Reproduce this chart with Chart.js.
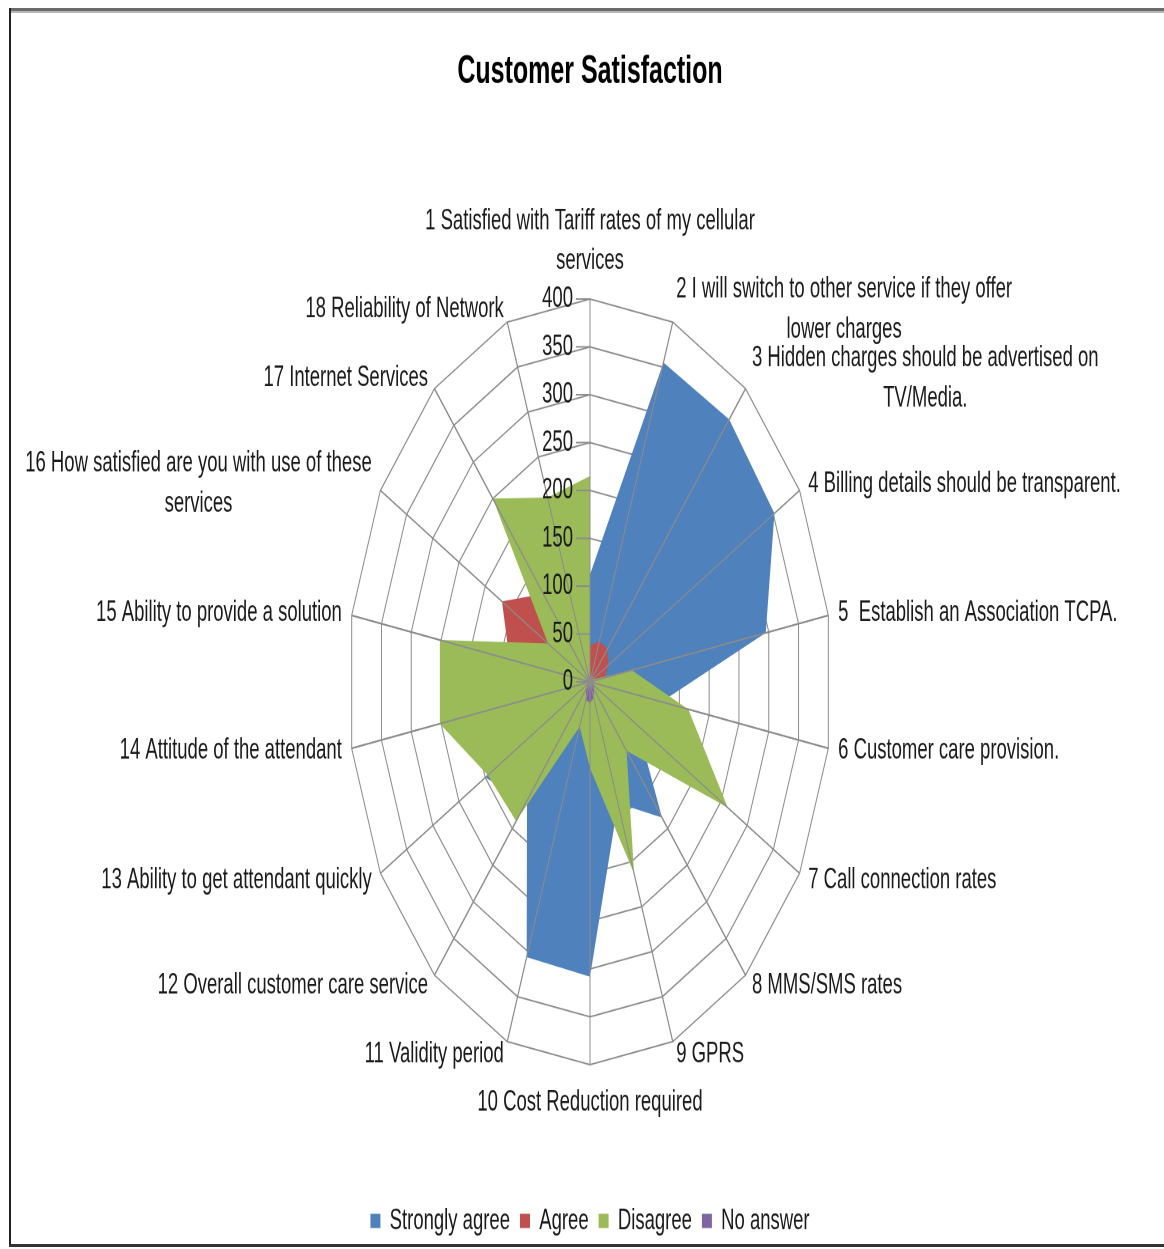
<!DOCTYPE html>
<html>
<head>
<meta charset="utf-8">
<title>Customer Satisfaction</title>
<script src="https://cdn.jsdelivr.net/npm/chart.js@4.4.1/dist/chart.umd.min.js"></script>
<style>
  html, body { margin: 0; padding: 0; background: #fff; }
  body { width: 1164px; height: 1249px; overflow: hidden; position: relative; }
  /* the chart is drawn on a squat canvas and stretched tall, so the web is an oval */
  #stage { position: absolute; left: 0; top: 0; width: 1164px; height: 791px; transform-origin: 0 0; transform: scaleY(1.582); }
  .rule { position: absolute; }
  #rule-top { left: 9px; top: 8px; width: 1155px; height: 3px; background: #6b6b6b; border-bottom: 2px solid #b8b8b8; }
  #rule-left { left: 9px; top: 8px; width: 2px; height: 1238px; background: #222; }
  #rule-bottom { left: 9px; top: 1244px; width: 1155px; height: 3px; background: #333; }
</style>
</head>
<body>
<div id="stage"><canvas id="radar" width="1164" height="791"></canvas></div>
<div class="rule" id="rule-top"></div>
<div class="rule" id="rule-left"></div>
<div class="rule" id="rule-bottom"></div>
<script>
const categories = [
  ["1 Satisfied with Tariff rates of my cellular", "services"],
  ["2 I will switch to other service if they offer", "lower charges"],
  ["3 Hidden charges should be advertised on", "TV/Media."],
  "4 Billing details should be transparent.",
  "5  Establish an Association TCPA.",
  "6 Customer care provision.",
  "7 Call connection rates",
  "8 MMS/SMS rates",
  "9 GPRS",
  "10 Cost Reduction required",
  "11 Validity period",
  "12 Overall customer care service",
  "13 Ability to get attendant quickly",
  "14 Attitude of the attendant",
  "15 Ability to provide a solution",
  ["16 How satisfied are you with use of these", "services"],
  "17 Internet Services",
  "18 Reliability of Network"
];

const stronglyAgree = [112, 355, 358, 352, 295, 120, 90, 185, 135, 308, 306, 162, 200, 60, 40, 20, 30, 60];
const agree         = [38, 45, 45, 35, 25, 15, 10, 8, 5, 5, 5, 10, 30, 80, 135, 168, 120, 60];
const disagree      = [215, 0, 0, 5, 70, 165, 263, 94, 213, 90, 50, 190, 195, 252, 252, 80, 250, 205];
const noAnswer      = [3, 3, 3, 3, 3, 5, 8, 10, 18, 22, 20, 10, 5, 5, 3, 3, 3, 3];

const tickLabels = [0, 50, 100, 150, 200, 250, 300, 350, 400];

const FONT = "'Liberation Sans', Arial, sans-serif";
const TEXT = "#1a1a1a";
const GRID = "#8c8c8c";

Chart.defaults.font.family = FONT;

// spokes, value labels and category labels drawn over the filled series
const radarOverlay = {
  id: "radarOverlay",
  afterDatasetsDraw(chart) {
    const r = chart.scales.r;
    const ctx = chart.ctx;
    ctx.save();
    ctx.strokeStyle = GRID;
    ctx.lineWidth = 1;
    ctx.beginPath();
    for (let i = 0; i < chart.data.labels.length; i++) {
      const p = r.getPointPosition(i, r.drawingArea);
      ctx.moveTo(r.xCenter, r.yCenter);
      ctx.lineTo(p.x, p.y);
    }
    ctx.stroke();

    ctx.font = "18.5px " + FONT;
    ctx.fillStyle = TEXT;
    ctx.textAlign = "right";
    ctx.textBaseline = "middle";
    r.ticks.forEach(t => {
      const p = r.getPointPositionForValue(0, t.value);
      ctx.beginPath();
      ctx.moveTo(p.x - 14, p.y);
      ctx.lineTo(p.x, p.y);
      ctx.stroke();
      ctx.fillText(String(t.value), p.x - 17, p.y);
    });
    ctx.restore();
  },
  afterDraw(chart) {
    const r = chart.scales.r;
    const ctx = chart.ctx;
    const lineH = 25.3;
    ctx.save();
    ctx.font = "18.5px " + FONT;
    ctx.fillStyle = TEXT;
    ctx.textAlign = "center";
    ctx.textBaseline = "middle";
    chart.data.labels.forEach((lab, i) => {
      const lines = Array.isArray(lab) ? lab : [lab];
      const a = r.getIndexAngle(i);
      const sin = Math.sin(a), cos = Math.cos(a);
      const p = r.getPointPosition(i, r.drawingArea);
      const w = Math.max(...lines.map(s => ctx.measureText(s).width));
      const half = (lines.length - 1) * lineH / 2;
      const deg = Math.round(a * 180 / Math.PI) % 360;
      let cx, cy;
      if (deg === 0) {
        cx = p.x; cy = p.y - 24 - half;
      } else if (deg === 180) {
        cx = p.x; cy = p.y + 24 + half;
      } else {
        const dx = 10 * Math.abs(sin);
        cx = sin > 0 ? p.x + dx + w / 2 : p.x - dx - w / 2;
        cy = p.y - 8.5 * cos;
      }
      lines.forEach((s, k) => ctx.fillText(s, cx, cy - half + k * lineH));
    });
    ctx.restore();
  }
};

const series = [
  { label: "Strongly agree", data: stronglyAgree, color: "#4F81BD", order: 3 },
  { label: "Agree", data: agree, color: "#C0504D", order: 2 },
  { label: "Disagree", data: disagree, color: "#9BBB59", order: 1 },
  { label: "No answer", data: noAnswer, color: "#8064A2", order: 0 }
];

new Chart(document.getElementById("radar"), {
  type: "radar",
  data: {
    labels: categories,
    datasets: series.map(s => ({
      label: s.label,
      data: s.data,
      order: s.order,
      fill: true,
      backgroundColor: s.color,
      borderColor: s.color,
      borderWidth: 0,
      pointRadius: 0,
      tension: 0
    }))
  },
  options: {
    responsive: false,
    devicePixelRatio: 2,
    animation: false,
    events: [],
    layout: { padding: { left: 348, right: 332, top: 0, bottom: 0 } },
    scales: {
      r: {
        min: tickLabels[0],
        max: tickLabels[tickLabels.length - 1],
        ticks: { display: false, stepSize: tickLabels[1] - tickLabels[0] },
        pointLabels: { display: false },
        grid: { circular: false, color: GRID, lineWidth: 1 },
        angleLines: { color: GRID, lineWidth: 1 }
      }
    },
    plugins: {
      title: {
        display: true,
        text: "Customer Satisfaction",
        color: "#000",
        font: { size: 25, weight: "bold", family: FONT },
        padding: { top: 30.5, bottom: 49 }
      },
      legend: {
        position: "bottom",
        reverse: true,
        labels: {
          boxWidth: 10,
          boxHeight: 9,
          padding: 10,
          color: TEXT,
          font: { size: 18.5, family: FONT }
        }
      },
      tooltip: { enabled: false }
    }
  },
  plugins: [radarOverlay]
});
</script>
</body>
</html>
